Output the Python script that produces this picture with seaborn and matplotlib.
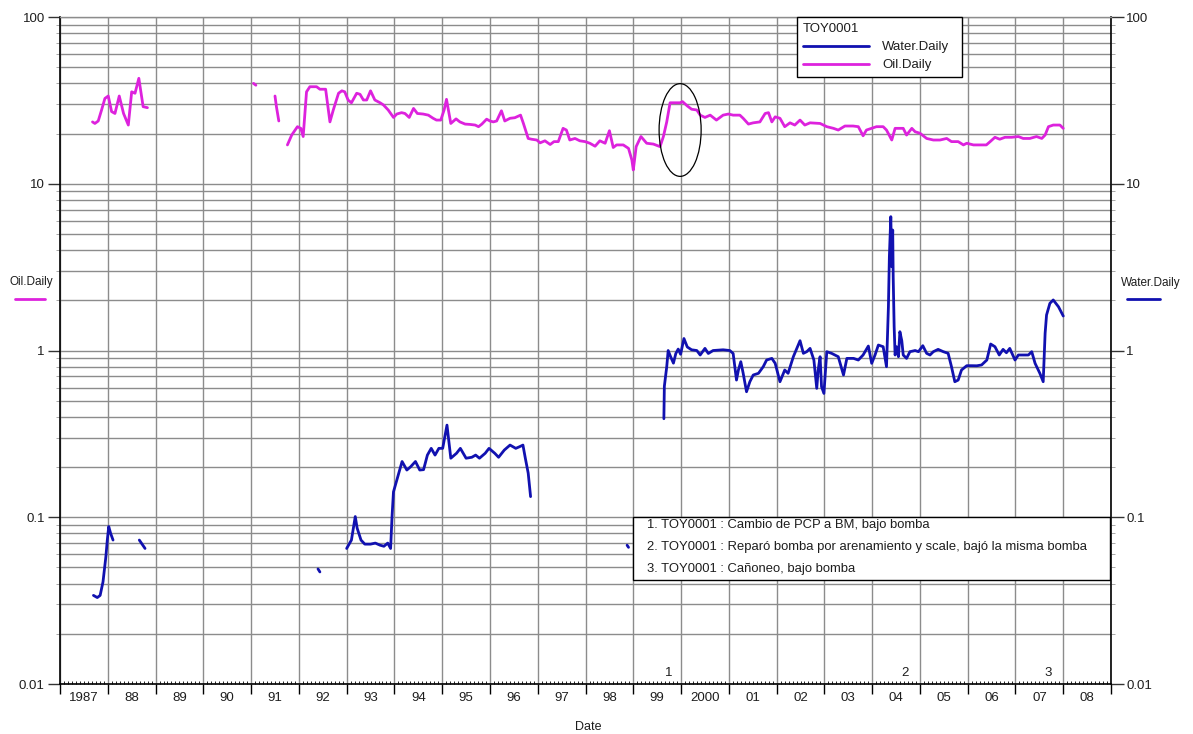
import numpy as np
import pandas as pd
import matplotlib
matplotlib.use("Agg")
import matplotlib.pyplot as plt
import matplotlib.transforms as mtransforms
import seaborn as sns
from matplotlib.lines import Line2D
from matplotlib.patches import Rectangle, Ellipse
from matplotlib.ticker import FixedLocator, FixedFormatter, LogLocator, NullFormatter

sns.set_theme(style="ticks")
plt.rcParams['font.family'] = ['Liberation Sans', 'DejaVu Sans']

WELL = "TOY0001"

# ---- Oil.Daily (decimal year, value) per continuous segment ----
oil_years_a = [1987.68, 1987.73, 1987.80, 1987.87, 1987.94, 1988.01, 1988.08, 1988.15,
               1988.24, 1988.33, 1988.43, 1988.50, 1988.57, 1988.65, 1988.74, 1988.83]
oil_vals_a = [23.5, 23.0, 23.8, 27.7, 32.5, 33.6, 27.1, 26.4,
              33.6, 26.4, 22.5, 35.6, 34.9, 42.9, 29.0, 28.6]

oil_years_b = [1991.05, 1991.10]
oil_vals_b = [40.0, 39.0]

oil_years_c = [1991.50, 1991.53, 1991.58]
oil_vals_c = [33.6, 29.0, 23.8]

oil_years_d = [
    1991.76, 1991.85, 1991.97, 1992.04, 1992.09, 1992.16, 1992.23, 1992.37, 1992.44, 1992.56,
    1992.65, 1992.72, 1992.83, 1992.90, 1992.96, 1993.03, 1993.10, 1993.21, 1993.28, 1993.35,
    1993.42, 1993.50, 1993.59, 1993.70, 1993.77, 1993.87, 1993.98, 1994.05, 1994.15, 1994.22,
    1994.31, 1994.40, 1994.48, 1994.60, 1994.71, 1994.81, 1994.88, 1994.97, 1995.04, 1995.09,
    1995.13, 1995.18, 1995.29, 1995.37, 1995.48, 1995.58, 1995.69, 1995.76, 1995.83, 1995.93,
    1996.00, 1996.07, 1996.14, 1996.24, 1996.31, 1996.42, 1996.52, 1996.64, 1996.70, 1996.80,
    1996.87, 1996.98, 1997.05, 1997.15, 1997.26, 1997.34, 1997.43, 1997.53, 1997.60, 1997.67,
    1997.78, 1997.88, 1997.99, 1998.09, 1998.20, 1998.30, 1998.41, 1998.50, 1998.58, 1998.65,
    1998.79, 1998.90, 1998.97, 1999.00, 1999.06, 1999.16, 1999.28, 1999.42, 1999.56, 1999.63,
    1999.70, 1999.77, 1999.87, 1999.98, 2000.03, 2000.13, 2000.22, 2000.33, 2000.40, 2000.50,
    2000.61, 2000.74, 2000.88, 2000.99, 2001.09, 2001.23, 2001.30, 2001.41, 2001.51, 2001.65,
    2001.76, 2001.83, 2001.90, 2001.97, 2002.07, 2002.17, 2002.28, 2002.38, 2002.49, 2002.59,
    2002.70, 2002.91, 2003.05, 2003.19, 2003.29, 2003.43, 2003.60, 2003.71, 2003.81, 2003.88,
    2004.09, 2004.23, 2004.30, 2004.41, 2004.48, 2004.65, 2004.72, 2004.83, 2004.90, 2005.00,
    2005.14, 2005.28, 2005.42, 2005.56, 2005.66, 2005.80, 2005.91, 2005.98, 2006.12, 2006.26,
    2006.39, 2006.47, 2006.57, 2006.67, 2006.78, 2006.92, 2007.06, 2007.16, 2007.30, 2007.44,
    2007.55, 2007.62, 2007.69, 2007.79, 2007.93, 2008.00]
oil_vals_d = [
    17.1, 19.6, 22.0, 21.5, 19.2, 35.6, 38.2, 38.2, 36.9, 36.9,
    23.5, 27.7, 34.9, 36.1, 35.6, 31.8, 30.6, 34.9, 34.4, 31.8,
    31.8, 36.1, 31.8, 30.6, 29.7, 27.7, 25.0, 26.2, 26.7, 26.4,
    25.0, 28.3, 26.4, 26.2, 25.8, 24.7, 24.1, 24.1, 27.7, 32.1,
    27.7, 23.0, 24.5, 23.5, 22.8, 22.7, 22.5, 22.0, 22.8, 24.4,
    23.8, 23.5, 23.8, 27.4, 23.8, 24.7, 24.9, 25.8, 23.0, 18.7,
    18.5, 18.3, 17.6, 18.1, 17.2, 17.9, 17.9, 21.5, 21.0, 18.3,
    18.7, 18.1, 17.9, 17.5, 16.8, 18.1, 17.5, 20.8, 16.5, 17.1,
    17.1, 16.3, 13.9, 12.1, 16.7, 19.2, 17.5, 17.3, 16.7, 19.2,
    23.5, 30.6, 30.6, 30.6, 31.1, 29.3, 28.0, 27.7, 25.8, 25.0,
    25.8, 24.1, 25.8, 26.2, 25.8, 25.8, 24.7, 22.8, 23.2, 23.5,
    26.4, 26.7, 23.5, 25.2, 24.7, 22.0, 23.2, 22.5, 24.1, 22.5,
    23.2, 23.0, 22.0, 21.5, 21.0, 22.2, 22.2, 22.0, 19.4, 21.0,
    22.0, 22.0, 21.0, 18.3, 21.5, 21.5, 19.6, 21.5, 20.5, 20.1,
    18.7, 18.3, 18.3, 18.7, 17.9, 17.9, 17.1, 17.5, 17.1, 17.1,
    17.1, 17.9, 19.0, 18.5, 19.0, 19.0, 19.2, 18.7, 18.7, 19.2,
    18.7, 19.6, 22.0, 22.5, 22.5, 21.5]

# ---- Water.Daily (decimal year, value) per continuous segment ----
water_years_a = [1987.70, 1987.78, 1987.84, 1987.90, 1987.96, 1987.99, 1988.02, 1988.06, 1988.11]
water_vals_a = [0.034, 0.033, 0.034, 0.041, 0.058, 0.073, 0.088, 0.080, 0.073]

water_years_b = [1988.66, 1988.78]
water_vals_b = [0.073, 0.065]

water_years_c = [1992.40, 1992.44]
water_vals_c = [0.049, 0.047]

water_years_d = [
    1993.00, 1993.10, 1993.18, 1993.22, 1993.30, 1993.38, 1993.50, 1993.60, 1993.70, 1993.78,
    1993.86, 1993.92, 1993.95, 1993.98, 1994.06, 1994.16, 1994.26, 1994.34, 1994.44, 1994.53,
    1994.61, 1994.69, 1994.77, 1994.85, 1994.93, 1995.01, 1995.10, 1995.18, 1995.30, 1995.38,
    1995.50, 1995.62, 1995.70, 1995.78, 1995.90, 1995.98, 1996.10, 1996.18, 1996.30, 1996.42,
    1996.54, 1996.62, 1996.69, 1996.74, 1996.80, 1996.85]
water_vals_d = [
    0.065, 0.073, 0.101, 0.086, 0.073, 0.069, 0.069, 0.070, 0.068, 0.067,
    0.070, 0.065, 0.101, 0.142, 0.171, 0.216, 0.192, 0.201, 0.216, 0.192,
    0.193, 0.236, 0.259, 0.236, 0.259, 0.259, 0.357, 0.226, 0.242, 0.259,
    0.226, 0.229, 0.236, 0.226, 0.242, 0.259, 0.242, 0.229, 0.253, 0.271,
    0.259, 0.265, 0.271, 0.226, 0.184, 0.133]

water_years_e = [1998.87, 1998.90]
water_vals_e = [0.068, 0.066]

water_years_f = [
    1999.64, 1999.65, 1999.70, 1999.73, 1999.78, 1999.84, 1999.89, 1999.94, 1999.99, 2000.06,
    2000.13, 2000.22, 2000.33, 2000.40, 2000.50, 2000.57, 2000.67, 2000.88, 2001.02, 2001.09,
    2001.16, 2001.20, 2001.25, 2001.30, 2001.37, 2001.44, 2001.51, 2001.62, 2001.72, 2001.79,
    2001.90, 2001.97, 2002.07, 2002.17, 2002.24, 2002.35, 2002.49, 2002.56, 2002.63, 2002.70,
    2002.78, 2002.84, 2002.87, 2002.91, 2002.94, 2002.99, 2003.05, 2003.15, 2003.29, 2003.40,
    2003.47, 2003.61, 2003.71, 2003.81, 2003.92, 2003.99, 2004.06, 2004.13, 2004.23, 2004.30,
    2004.34, 2004.36, 2004.39, 2004.41, 2004.43, 2004.44, 2004.46, 2004.48, 2004.51, 2004.55,
    2004.58, 2004.62, 2004.65, 2004.72, 2004.79, 2004.90, 2004.97, 2005.06, 2005.14, 2005.21,
    2005.28, 2005.38, 2005.49, 2005.59, 2005.66, 2005.73, 2005.80, 2005.87, 2005.98, 2006.08,
    2006.19, 2006.29, 2006.40, 2006.48, 2006.57, 2006.66, 2006.74, 2006.81, 2006.88, 2006.99,
    2007.06, 2007.16, 2007.27, 2007.34, 2007.41, 2007.51, 2007.58, 2007.62, 2007.65, 2007.72,
    2007.79, 2007.90, 2008.00]
water_vals_f = [
    0.39, 0.61, 0.80, 1.00, 0.92, 0.84, 0.96, 1.02, 0.95, 1.18,
    1.05, 1.01, 1.00, 0.94, 1.03, 0.96, 1.00, 1.01, 1.00, 0.96,
    0.665, 0.764, 0.857, 0.73, 0.566, 0.65, 0.713, 0.73, 0.80, 0.877,
    0.897, 0.838, 0.65, 0.764, 0.73, 0.918, 1.145, 0.962, 0.984, 1.03,
    0.877, 0.593, 0.764, 0.918, 0.607, 0.553, 0.984, 0.962, 0.918, 0.713,
    0.897, 0.897, 0.877, 0.94, 1.064, 0.838, 0.94, 1.079, 1.054, 0.80,
    1.83, 3.65, 6.35, 3.18, 5.28, 2.77, 1.39, 0.94, 1.054, 0.918,
    1.297, 1.145, 0.94, 0.897, 0.984, 1.00, 0.984, 1.069, 0.962, 0.94,
    0.984, 1.016, 0.984, 0.962, 0.80, 0.65, 0.665, 0.764, 0.811, 0.811,
    0.81, 0.819, 0.877, 1.094, 1.054, 0.94, 1.016, 0.97, 1.03, 0.877,
    0.94, 0.94, 0.94, 0.984, 0.838, 0.73, 0.65, 1.268, 1.633, 1.918,
    2.01, 1.83, 1.61]

# ---- axis labels and events ----
year_ticks = list(range(1987, 2010))
year_labels = ["1987", "88", "89", "90", "91", "92", "93", "94", "95", "96", "97", "98",
               "99", "2000", "01", "02", "03", "04", "05", "06", "07", "08"]
y_ticks = [0.01, 0.1, 1, 10, 100]
y_labels = ["0.01", "0.1", "1", "10", "100"]
event_years = [1999.75, 2004.69, 2007.68]
event_ids = ["1", "2", "3"]
event_notes = ["Cambio de PCP a BM, bajo bomba",
               "Reparó bomba por arenamiento y scale, bajó la misma bomba",
               "Cañoneo, bajo bomba"]

OIL_C = "#dd22dd"
WATER_C = "#1111b0"
GRID_C = "#8c8c8c"
TEXT_C = "#1e1e1e"


def build_frame(segments, name):
    rows = []
    for seg_id, (yrs, vals) in enumerate(segments):
        for yr, v in zip(yrs, vals):
            rows.append((yr, v, seg_id))
    return pd.DataFrame(rows, columns=["Date", name, "segment"])


oil_df = build_frame([(oil_years_a, oil_vals_a), (oil_years_b, oil_vals_b),
                      (oil_years_c, oil_vals_c), (oil_years_d, oil_vals_d)], "Oil.Daily")
water_df = build_frame([(water_years_a, water_vals_a), (water_years_b, water_vals_b),
                        (water_years_c, water_vals_c), (water_years_d, water_vals_d),
                        (water_years_e, water_vals_e), (water_years_f, water_vals_f)],
                       "Water.Daily")

fig = plt.figure(figsize=(11.93, 7.34), dpi=100)
ax = fig.add_axes([0.0503, 0.0681, 0.8810, 0.9087])
ax.set_yscale("log")

sns.lineplot(data=water_df, x="Date", y="Water.Daily", units="segment", estimator=None,
             sort=False, color=WATER_C, linewidth=2, ax=ax, legend=False, zorder=3)
sns.lineplot(data=oil_df, x="Date", y="Oil.Daily", units="segment", estimator=None,
             sort=False, color=OIL_C, linewidth=2, ax=ax, legend=False, zorder=3)
ax.set_xlim(1987, 2009)
ax.set_ylim(0.01, 100)
ax.set_xlabel("")
ax.set_ylabel("")

# x axis: year boundaries (major, outward) and months (minor, inward)
ax.xaxis.set_major_locator(FixedLocator(year_ticks))
ax.xaxis.set_major_formatter(NullFormatter())
ax.xaxis.set_minor_locator(FixedLocator(np.arange(1987, 2009 + 1e-9, 1 / 12)))
ax.tick_params(axis="x", which="major", direction="out", length=7, width=1.0,
               color="black", bottom=True, top=False)
ax.tick_params(axis="x", which="minor", direction="in", length=2.5, width=0.6,
               color="black", bottom=True, top=False)

# y axis: log decades on both sides
ax.yaxis.set_major_locator(FixedLocator(y_ticks))
ax.yaxis.set_major_formatter(FixedFormatter(y_labels))
ax.yaxis.set_minor_locator(LogLocator(base=10, subs=np.arange(2, 10)))
ax.yaxis.set_minor_formatter(NullFormatter())
ax.tick_params(axis="y", which="major", direction="out", length=9, width=1.0,
               color="#333333", left=True, right=True, labelleft=True, labelright=True,
               labelsize=9.5, labelcolor=TEXT_C, pad=2)
ax.tick_params(axis="y", which="minor", direction="out", length=3, width=0.6,
               color="#999999", left=True, right=True)

ax.grid(which="major", axis="x", color=GRID_C, linewidth=1.0)
ax.grid(which="both", axis="y", color=GRID_C, linewidth=1.0)
ax.set_axisbelow(True)

for side in ("left", "bottom", "right"):
    ax.spines[side].set_color("black")
    ax.spines[side].set_linewidth(1.2)
ax.spines["top"].set_color(GRID_C)
ax.spines["top"].set_linewidth(1.0)

xform = mtransforms.blended_transform_factory(ax.transData, ax.transAxes)
for yr, lab in zip(year_ticks[:-1], year_labels):
    ax.text(yr + 0.5, -0.021, lab, transform=xform, ha="center", va="center",
            fontsize=9.5, color=TEXT_C)
for yr, lab in zip(event_years, event_ids):
    ax.text(yr, 0.0165, lab, transform=xform, ha="center", va="center",
            fontsize=9.5, color=TEXT_C)

fig.text(588 / 1193, 1 - 727 / 734, "Date", ha="center", va="center", fontsize=9,
         color=TEXT_C)

# series captions beside the value axes
fig.text(31 / 1193, 1 - 282 / 734, "Oil.Daily", ha="center", va="center", fontsize=8.5,
         color=TEXT_C)
fig.add_artist(Line2D([15 / 1193, 45 / 1193], [1 - 299 / 734] * 2, color=OIL_C, lw=2,
                      transform=fig.transFigure))
fig.text(1151 / 1193, 1 - 283 / 734, "Water.Daily", ha="center", va="center", fontsize=8.5,
         color=TEXT_C)
fig.add_artist(Line2D([1127 / 1193, 1160 / 1193], [1 - 299 / 734] * 2, color=WATER_C, lw=2,
                      transform=fig.transFigure))

# well legend
handles = [Line2D([], [], color=WATER_C, lw=2, label="Water.Daily"),
           Line2D([], [], color=OIL_C, lw=2, label="Oil.Daily")]
leg = ax.legend(handles=handles, title=WELL, loc="upper left",
                bbox_to_anchor=(0.701, 0.905, 0.157, 0.095), mode="expand",
                frameon=True, fancybox=False, edgecolor="black", framealpha=1,
                borderaxespad=0, handlelength=5.0, handletextpad=1.0, fontsize=9.5,
                title_fontsize=9.5, alignment="left", borderpad=0.45, labelspacing=0.45)
leg.get_frame().set_linewidth(1.0)
for t in leg.get_texts():
    t.set_color(TEXT_C)
leg.get_title().set_color(TEXT_C)
leg.set_zorder(6)

# event notes box
ax.add_patch(Rectangle((0.545, 0.156), 0.454, 0.0944, transform=ax.transAxes,
                       facecolor="white", edgecolor="black", lw=1.0, zorder=4))
for i, (lab, note) in enumerate(zip(event_ids, event_notes)):
    ax.text(0.5585, 0.2384 - i * 0.033, f"{lab}. {WELL} : {note}", transform=ax.transAxes,
            ha="left", va="center", fontsize=9.4, color=TEXT_C, zorder=5)

# highlight around the pump change
ax.add_patch(Ellipse((0.590, 0.8306), 0.040, 0.139, transform=ax.transAxes, fill=False,
                     edgecolor="black", lw=0.9, zorder=5))

fig.savefig("out.png", dpi=100)
